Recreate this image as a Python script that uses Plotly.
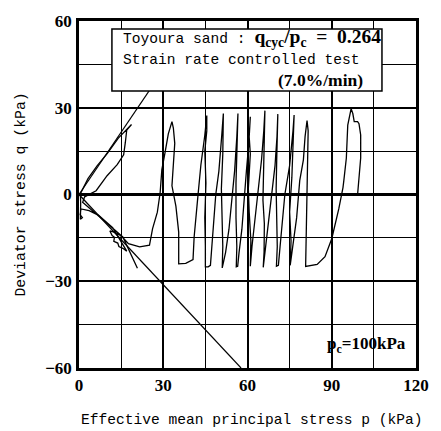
import plotly.graph_objects as go

# Effective stress path (p, q) in kPa (time order)
p_path = [99.2, 100.3, 100.3, 99.7, 99.2, 98.0, 97.5, 96.9, 95.7, 95.2, 94.3, 94.0, 92.5, 90.0, 87.6, 84.8, 80.7,
          80.9, 81.2, 81.4, 81.6, 81.2,
          80.5, 79.9, 78.6, 77.5, 76.3, 75.2,
          75.5, 75.0, 75.8, 76.3, 76.6,
          76.2, 75.0, 73.3, 72.5, 71.6, 71.0, 70.3,
          70.6, 70.3, 70.2, 70.4, 70.6, 70.8,
          70.5, 69.8, 68.6, 67.6, 66.6, 65.6,
          65.9, 66.0, 65.5, 65.7, 65.9, 66.2,
          65.8, 65.0, 63.6, 62.6, 61.6, 61.0,
          61.2, 60.6, 60.3, 61.0, 60.6, 61.0,
          60.5, 59.6, 59.0, 58.0, 57.0, 56.5, 56.0,
          56.2, 55.9, 55.9, 56.2, 56.4, 56.6,
          56.2, 55.4, 54.5, 53.4, 52.2, 51.0,
          51.2, 50.9, 50.7, 51.2, 51.2, 51.4,
          50.8, 49.8, 48.7, 47.8, 47.0, 46.8, 46.0, 45.0,
          45.0, 44.8, 45.2, 44.8, 45.5, 45.5,
          44.8, 43.4, 42.3, 41.0, 40.6, 38.0, 35.5,
          35.5, 34.5, 33.1, 34.1, 33.6, 33.1,
          31.8, 30.6, 29.5, 28.9, 27.9, 26.2, 25.6, 25.1, 21.6, 17.6, 15.9,
          14.5, 12.5, 11.0, 11.8, 12.6, 12.4, 13.8, 14.2, 15.6, 17.0,
          12.0, 7.0, 3.6, 0.7, 0.4, 1.2, 0.5, 0.6, 0.5,
          3.2, 6.5, 10.1, 14.0, 18.7,
          17.0, 16.5, 15.9, 13.6, 10.0, 6.1, 2.0, 1.3,
          6.0, 11.0, 15.6, 18.5, 20.8]
q_path = [0.0, 12.6, 20.6, 24.5, 25.2, 25.2, 28.0, 29.7, 24.0, 12.6, 4.8, 2.4, -5.0, -15.3, -21.5, -24.2, -24.9,
          -15.3, 0.0, 15.0, 22.0, 25.6,
          20.0, 12.0, 4.8, -8.0, -17.0, -24.5,
          -16.0, -6.0, 6.0, 17.0, 27.5,
          22.0, 10.0, 0.0, -10.0, -18.0, -24.5, -24.8,
          -18.0, -8.0, 2.0, 12.0, 20.0, 27.8,
          20.0, 10.0, 0.0, -8.0, -18.0, -25.2,
          -20.0, -10.0, -2.0, 8.0, 18.0, 29.0,
          22.0, 12.0, 0.0, -8.0, -18.0, -24.8,
          -16.0, -6.0, 2.0, 14.0, 20.0, 26.9,
          18.0, 8.0, 0.0, -12.0, -20.0, -24.8, -25.0,
          -18.0, -8.0, 4.0, 14.0, 22.0, 28.0,
          20.0, 8.0, 0.0, -12.0, -20.0, -25.4,
          -18.0, -8.0, 2.0, 14.0, 22.0, 28.0,
          20.0, 8.0, 0.0, -12.0, -20.0, -24.5, -25.0, -25.0,
          -18.0, -8.0, 4.0, 15.0, 22.0, 27.3,
          20.5, 10.2, -1.0, -14.7, -22.5, -23.8, -24.0,
          -13.0, -4.0, 3.0, 17.7, 23.0, 25.2,
          21.0, 14.3, 8.6, 0.7, -6.1, -11.8, -15.2, -17.5, -18.1, -17.0, -15.2,
          -14.0, -13.0, -12.6, -14.2, -14.8, -16.2, -16.8, -18.0, -18.6, -19.6,
          -11.5, -7.2, -5.6, -5.0, -7.0, -8.0, -8.6, -3.0, 0.3,
          5.5, 10.0, 14.2, 19.5, 24.2,
          22.3, 18.0, 13.7, 10.3, 6.5, 1.3, -0.8, -2.7,
          -6.5, -10.8, -14.7, -20.5, -25.5]

# Failure lines (compression / extension)
p_fail_comp = [0, 39.0]
q_fail_comp = [0, 56.0]
p_fail_ext = [0, 57.7]
q_fail_ext = [0, -60.0]

x_ticks = [0, 30, 60, 90, 120]
y_ticks = [-60, -30, 0, 30, 60]

SERIF = "Liberation Serif"
MONO = "Liberation Mono"

fig = go.Figure()
fig.add_trace(go.Scatter(x=p_fail_comp, y=q_fail_comp, mode="lines",
                         line=dict(color="black", width=1.2), showlegend=False))
fig.add_trace(go.Scatter(x=p_fail_ext, y=q_fail_ext, mode="lines",
                         line=dict(color="black", width=1.2), showlegend=False))
fig.add_trace(go.Scatter(x=p_path, y=q_path, mode="lines",
                         line=dict(color="black", width=1.3), showlegend=False))

axis_common = dict(
    showline=True, linecolor="black", linewidth=2.5, mirror=True,
    showgrid=True, gridcolor="black", gridwidth=1.5,
    ticks="", tickfont=dict(family=SERIF, size=17, color="black", weight="bold"),
    minor=dict(dtick=15, showgrid=True, gridcolor="black", gridwidth=1.2),
)

fig.update_xaxes(range=[0, 120], tickvals=x_ticks, zeroline=False, ticklabelstandoff=0, **axis_common)
fig.update_yaxes(range=[-60, 60], tickvals=y_ticks, zeroline=True, zerolinecolor="black",
                 zerolinewidth=2.5, ticklabelstandoff=1, **axis_common)

fig.add_shape(type="rect", xref="paper", yref="paper", x0=0.0977, x1=0.899, y0=0.798, y1=0.977,
              fillcolor="white", line=dict(color="black", width=1.5), layer="above")

ann = []
ann.append(dict(xref="paper", yref="paper", x=0.1236, y=0.950, xanchor="left", yanchor="middle",
                text=("Toyoura sand : <span style=\"font-family:Liberation Serif;font-weight:bold;font-size:19.5px\">"
                      "q<sub>cyc</sub>/p<sub>c</sub>&nbsp; =&nbsp; 0.264</span>"),
                font=dict(family=MONO, size=14.6, color="black"), showarrow=False))
ann.append(dict(xref="paper", yref="paper", x=0.1236, y=0.888, xanchor="left", yanchor="middle",
                text="Strain rate controlled test",
                font=dict(family=MONO, size=14.6, color="black"), showarrow=False))
ann.append(dict(xref="paper", yref="paper", x=0.848, y=0.830, xanchor="right", yanchor="middle",
                text="(7.0%/min)",
                font=dict(family=SERIF, size=17.5, color="black", weight="bold"), showarrow=False))
ann.append(dict(xref="paper", yref="paper", x=0.977, y=0.066, xanchor="right", yanchor="middle",
                text="p<sub>c</sub>=100kPa",
                font=dict(family=SERIF, size=17, color="black", weight="bold"), showarrow=False))
ann.append(dict(xref="paper", yref="paper", x=-0.175, y=0.5, xanchor="center", yanchor="middle",
                text="Deviator stress q (kPa)", textangle=-90,
                font=dict(family=MONO, size=14.8, color="black"), showarrow=False))
ann.append(dict(xref="paper", yref="paper", x=0.512, y=-0.151, xanchor="center", yanchor="middle",
                text="Effective mean principal stress p (kPa)",
                font=dict(family=MONO, size=14.6, color="black"), showarrow=False))

fig.update_layout(
    width=441, height=431,
    margin=dict(l=79, r=14, t=16, b=63),
    paper_bgcolor="white", plot_bgcolor="white",
    annotations=ann,
)

fig.write_html("out.html")
